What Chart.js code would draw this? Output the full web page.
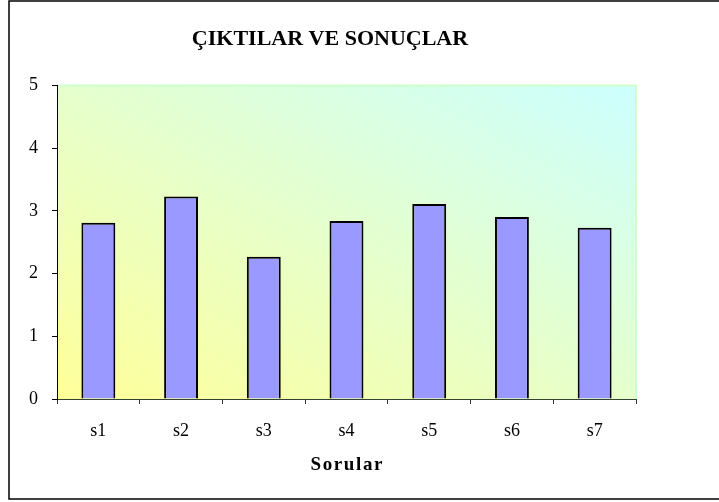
<!DOCTYPE html>
<html>
<head>
<meta charset="utf-8">
<script src="https://cdn.jsdelivr.net/npm/chart.js@4/dist/chart.umd.min.js"></script>
<style>
  html, body { margin: 0; padding: 0; background: #fff; }
  #wrap { width: 719px; height: 502px; position: relative; }
</style>
</head>
<body>
<div id="wrap"><canvas id="chart"></canvas></div>
<script>
// chart data
const categories = ['s1', 's2', 's3', 's4', 's5', 's6', 's7'];
const scores = [2.81, 3.23, 2.27, 2.84, 3.11, 2.90, 2.73];
const yTicks = [0, 1, 2, 3, 4, 5];

const serif = "'Liberation Serif', 'Times New Roman', serif";

// frame round the whole chart + gradient plot background
const chartBackground = {
    id: 'chartBackground',
    beforeDraw(chart) {
        const { ctx, chartArea: a } = chart;
        ctx.save();
        ctx.fillStyle = '#fff';
        ctx.fillRect(0, 0, chart.width, chart.height);

        // diagonal gradient: yellow bottom-left corner, cyan top-right corner
        const w = a.right - a.left, h = a.bottom - a.top;
        const k = 2 * w * h / (w * w + h * h);
        const g = ctx.createLinearGradient(a.left, a.bottom, a.left + h * k, a.bottom - w * k);
        g.addColorStop(0, '#ffff99');
        g.addColorStop(1, '#ccffff');
        ctx.fillStyle = g;
        ctx.fillRect(a.left, a.top, w, h);

        // light green edge on top and right
        ctx.strokeStyle = '#ccffcc';
        ctx.lineWidth = 2;
        ctx.beginPath();
        ctx.moveTo(a.left, a.top);
        ctx.lineTo(a.right, a.top);
        ctx.lineTo(a.right, a.bottom);
        ctx.stroke();

        ctx.strokeStyle = '#000';
        ctx.lineWidth = 1.5;
        ctx.strokeRect(9, 1, 730, 498);
        ctx.restore();
    }
};

new Chart(document.getElementById('chart'), {
    type: 'bar',
    data: {
        labels: categories,
        datasets: [{
            data: scores,
            backgroundColor: '#9999ff',
            borderColor: '#000',
            borderWidth: 2,
            categoryPercentage: 1,
            barPercentage: 0.41
        }]
    },
    options: {
        responsive: true,
        maintainAspectRatio: false,
        animation: false,
        layout: { padding: { left: 24, right: 83, top: 0, bottom: 26 } },
        plugins: {
            legend: { display: false },
            tooltip: { enabled: false },
            title: {
                display: true,
                text: 'ÇIKTILAR VE SONUÇLAR',
                color: '#000',
                font: { family: serif, size: 22, weight: 'bold' },
                padding: { top: 26, bottom: 33 }
            }
        },
        scales: {
            x: {
                afterFit(scale) { scale.height = 77; },
                grid: { display: true, drawOnChartArea: false, tickLength: 5, color: '#333' },
                border: { color: '#334433', width: 1 },
                ticks: { color: '#000', padding: 16, font: { family: serif, size: 18 } },
                title: {
                    display: true,
                    text: 'S\u200Ao\u200Ar\u200Au\u200Al\u200Aa\u200Ar',
                    color: '#000',
                    font: { family: serif, size: 19, weight: 'bold' },
                    padding: { top: 0, bottom: 0 }
                }
            },
            y: {
                min: 0,
                max: 5,
                afterFit(scale) { scale.width = 33; },
                afterBuildTicks(scale) { scale.ticks = yTicks.map(v => ({ value: v })); },
                grid: { display: true, drawOnChartArea: false, tickLength: 5, color: '#000' },
                border: { color: '#000', width: 1 },
                ticks: { color: '#000', padding: 14, font: { family: serif, size: 18 } }
            }
        }
    },
    plugins: [chartBackground]
});
</script>
</body>
</html>
